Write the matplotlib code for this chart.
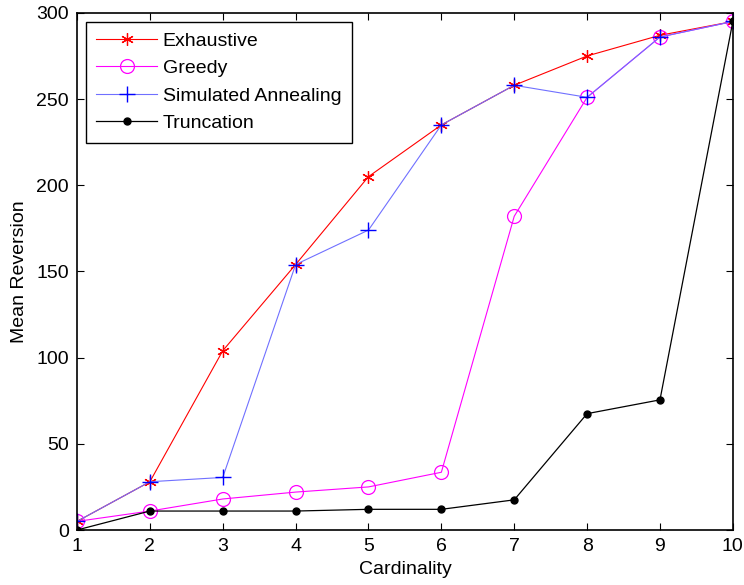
import numpy as np
import matplotlib
matplotlib.use('Agg')
import matplotlib.pyplot as plt

plt.rcParams['font.family'] = ['Liberation Sans', 'DejaVu Sans']

cardinality = [1, 2, 3, 4, 5, 6, 7, 8, 9, 10]
exhaustive = [5, 28, 104, 154, 205, 235, 258, 275, 287, 295]
greedy = [5, 11, 18, 22, 25, 33.5, 182, 251, 286, 295]
annealing = [5, 28, 30.5, 154, 174, 235, 258, 251, 286, 295]
truncation = [0, 11, 11, 11, 12, 12, 17.5, 67.5, 75.5, 295]

fig = plt.figure(figsize=(7.44, 5.85), dpi=100)
ax = fig.add_axes([0.1035, 0.094, 0.8815, 0.884])

ax.plot(cardinality, exhaustive, color='#ff0000', lw=0.8, marker=(6, 2, 0),
        ms=9, mew=0.9, label='Exhaustive')
ax.plot(cardinality, greedy, color='#ff00ff', lw=0.8, marker='o', ms=10,
        mfc='none', mew=0.9, label='Greedy')
ax.plot(cardinality, annealing, color='#7070ff', lw=0.8, marker='+', ms=12,
        mec='#0000ff', mew=1.0, label='Simulated Annealing')
ax.plot(cardinality, truncation, color='black', lw=0.9, marker='.', ms=10,
        label='Truncation')

ax.set_xlim(1, 10)
ax.set_ylim(0, 300)
ax.set_xticks(cardinality)
ax.set_yticks([0, 50, 100, 150, 200, 250, 300])
ax.tick_params(direction='in', top=True, right=True, labelsize=14, length=5,
               width=0.8, pad=6)
for s in ax.spines.values():
    s.set_linewidth(1.2)

ax.set_xlabel('Cardinality', fontsize=14, labelpad=4)
ax.set_ylabel('Mean Reversion', fontsize=14, labelpad=6)

leg = ax.legend(loc='upper left', fontsize=14, fancybox=False, framealpha=1,
                edgecolor='black', borderaxespad=0.45, handlelength=3.1,
                handletextpad=0.3, labelspacing=0.5, borderpad=0.55)
leg.get_frame().set_linewidth(1.0)

fig.savefig('out.png', dpi=100)
